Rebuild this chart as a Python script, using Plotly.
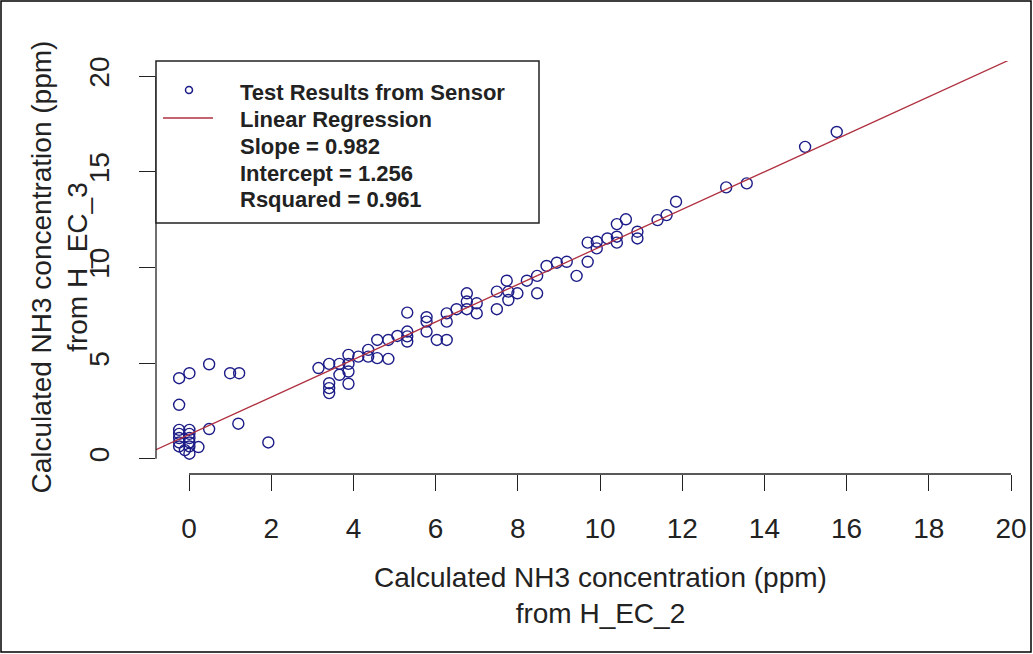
import plotly.graph_objects as go

# sensor readings (ppm)
h_ec_2 = [
    -0.24, 0.01, 0.49, 1.00, 1.22, -0.24,
    -0.24, 0.01, -0.24, 0.01, -0.24, 0.01, -0.24, 0.01,
    -0.24, 0.01, 0.23, 0.01, -0.10, 0.49, 1.20, 1.93,
    3.15, 3.41, 3.41, 3.41, 3.41, 3.66, 3.66, 3.88, 3.88, 3.88, 3.88,
    4.12, 4.36, 4.36, 4.58, 4.58, 4.85, 4.85, 5.07,
    5.31, 5.31, 5.31, 5.31,
    5.78, 5.78, 5.78, 6.03, 6.27, 6.27, 6.27, 6.51,
    6.76, 6.76, 6.76, 7.00, 7.00, 7.49, 7.49, 7.73, 7.77, 7.77,
    7.99, 8.22, 8.47, 8.47, 8.70,
    8.95, 9.19, 9.43, 9.70, 9.70, 9.92, 9.92, 10.18,
    10.41, 10.41, 10.41, 10.63, 10.91, 10.91, 11.40, 11.62, 11.85,
    13.07, 13.57, 14.99, 15.76,
]
h_ec_3 = [
    4.21, 4.47, 4.94, 4.47, 4.47, 2.82,
    1.51, 1.51, 1.30, 1.30, 1.08, 1.08, 0.85, 0.85,
    0.64, 0.64, 0.61, 0.26, 0.45, 1.55, 1.83, 0.85,
    4.74, 4.96, 3.95, 3.69, 3.43, 4.96, 4.39, 5.43, 4.96, 4.56, 3.92,
    5.34, 5.69, 5.34, 6.21, 5.26, 6.21, 5.22, 6.42,
    7.64, 6.65, 6.40, 6.13,
    7.40, 7.17, 6.65, 6.21, 6.21, 7.60, 7.17, 7.82,
    8.65, 8.22, 7.82, 7.60, 8.13, 7.82, 8.74, 9.31, 8.74, 8.30,
    8.65, 9.31, 9.56, 8.65, 10.08,
    10.25, 10.30, 9.56, 10.30, 11.30, 11.35, 11.00, 11.52,
    12.27, 11.61, 11.30, 12.52, 11.87, 11.52, 12.48, 12.74, 13.44,
    14.19, 14.40, 16.31, 17.09,
]

slope = 0.982
intercept = 1.256
rsquared = 0.961

legend_lines = [
    "Test Results from Sensor",
    "Linear Regression",
    f"Slope = {slope}",
    f"Intercept = {intercept}",
    f"Rsquared = {rsquared}",
]

x_ticks = list(range(0, 21, 2))
y_ticks = [0, 5, 10, 15, 20]

# --- geometry (pixels) ---
W, H = 1033, 654
ML, MR, MT, MB = 156, 0, 61, 180
X_RANGE = [-0.803, 20.535]
Y_RANGE = [-0.8, 20.8]

FONT = "Liberation Sans, Arial, sans-serif"
INK = "#222222"
BLUE = "#1c1c88"
RED = "#b03040"

pw = W - ML - MR
ph = H - MT - MB


def px(x):
    return (x - ML) / pw


def py(y):
    return (H - MB - y) / ph


fig = go.Figure()

fig.add_trace(go.Scatter(
    x=h_ec_2, y=h_ec_3,
    mode="markers",
    marker=dict(symbol="circle-open", size=11, color=BLUE, line=dict(width=1.4, color=BLUE)),
    name=legend_lines[0],
    showlegend=False,
))

fig.add_trace(go.Scatter(
    x=X_RANGE,
    y=[intercept + slope * v for v in X_RANGE],
    mode="lines",
    line=dict(color=RED, width=1.3),
    name=legend_lines[1],
    showlegend=False,
))

shapes = []
annotations = []

# R style axis lines: only from first to last tick
shapes.append(dict(type="line", xref="x", yref="paper",
                   x0=x_ticks[0], x1=x_ticks[-1], y0=0, y1=0,
                   line=dict(color=INK, width=1.3)))
shapes.append(dict(type="line", xref="paper", yref="y",
                   x0=0, x1=0, y0=y_ticks[0], y1=y_ticks[-1],
                   line=dict(color=INK, width=1.3)))

# legend box
shapes.append(dict(type="rect", xref="paper", yref="paper",
                   x0=0, x1=px(539), y0=py(223), y1=1,
                   line=dict(color=INK, width=1.5), fillcolor="white", layer="above"))
shapes.append(dict(type="circle", xref="paper", yref="paper",
                   x0=px(185.5), x1=px(192.5), y0=py(93.5), y1=py(86.5),
                   line=dict(color=BLUE, width=1.5), layer="above"))
shapes.append(dict(type="line", xref="paper", yref="paper",
                   x0=px(163), x1=px(213), y0=py(118), y1=py(118),
                   line=dict(color=RED, width=1.5), layer="above"))

for text, ypix in zip(legend_lines, [92, 119, 146, 173, 200]):
    annotations.append(dict(
        x=px(238), y=py(ypix), xref="paper", yref="paper",
        text=f"<b>{text}</b>", showarrow=False,
        xanchor="left", yanchor="middle",
        font=dict(family=FONT, size=22, color=INK),
    ))

# axis titles
annotations.append(dict(
    x=px(600), y=py(595), xref="paper", yref="paper",
    text="Calculated NH3 concentration (ppm)<br>from H_EC_2",
    showarrow=False, xanchor="center", yanchor="middle",
    font=dict(family=FONT, size=28, color=INK),
))
annotations.append(dict(
    x=px(59), y=0.5, xref="paper", yref="paper",
    text="Calculated NH3 concentration (ppm)<br>from H_EC_3",
    showarrow=False, xanchor="center", yanchor="middle", textangle=-90,
    font=dict(family=FONT, size=28, color=INK),
))

# outer frame of the picture
shapes.append(dict(type="rect", xref="paper", yref="paper",
                   x0=px(1), x1=px(1031), y0=py(652), y1=py(1),
                   line=dict(color="black", width=1.5)))

axis_common = dict(
    showgrid=False, zeroline=False, showline=False,
    ticks="outside", ticklen=16, tickwidth=1.3, tickcolor=INK,
    tickfont=dict(family=FONT, size=28, color=INK),
)

fig.update_layout(
    width=W, height=H,
    margin=dict(l=ML, r=MR, t=MT, b=MB, autoexpand=False),
    paper_bgcolor="white", plot_bgcolor="white",
    showlegend=False,
    xaxis=dict(range=X_RANGE, tickvals=x_ticks, ticklabelstandoff=13, **axis_common),
    yaxis=dict(range=Y_RANGE, tickvals=y_ticks, tickangle=-90, ticklabelstandoff=19, **axis_common),
    shapes=shapes,
    annotations=annotations,
)

# drop the browser's default body margin so the figure sits at the page corner
fig.write_html(
    "out.html",
    config={"displayModeBar": False},
    post_script="document.body.style.margin='0';document.body.style.overflow='hidden';",
)
